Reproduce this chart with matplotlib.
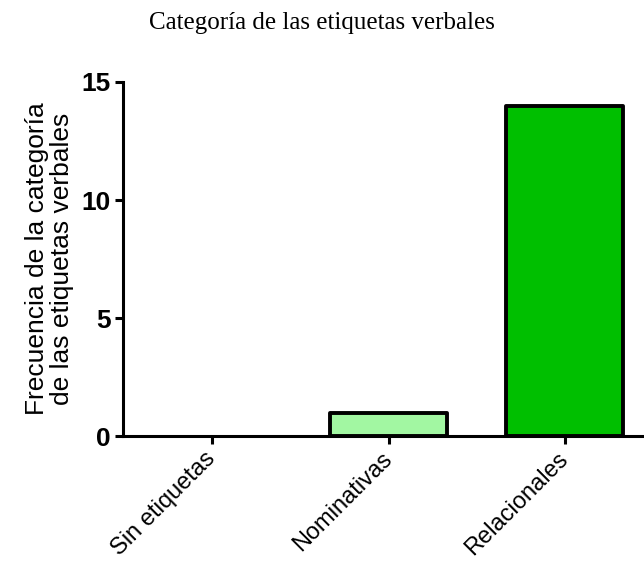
import numpy as np
import matplotlib.pyplot as plt

categorias = ['Sin etiquetas', 'Nominativas', 'Relacionales']
frecuencias = [0, 1, 14]
colores = ['#ffffff', '#a2f7a2', '#00bf00']

def main():
	fig = plt.figure(figsize=(6.44, 5.65), dpi=100)
	ax = fig.add_axes([0.191, 0.228, 0.82, 0.627])

	x = np.arange(len(categorias))
	# bars with zero height get no outline
	bordes = [0 if v == 0 else 2.8 for v in frecuencias]
	barras = ax.bar(x, frecuencias, width=0.665, color=colores, edgecolor='black',
	                linewidth=bordes, zorder=3)
	for b in barras:
		b.set_joinstyle('round')

	ax.set_xlim(-0.507, 2.49)
	ax.set_ylim(0, 15)
	ax.set_yticks([0, 5, 10, 15])
	ax.set_xticks(x)
	ax.set_xticklabels(categorias, rotation=45, ha='right', va='center',
	                   rotation_mode='anchor', fontsize=17, family='Liberation Sans')
	for lbl in ax.get_yticklabels():
		lbl.set_fontsize(19)
		lbl.set_fontweight('bold')
		lbl.set_family('Liberation Sans')

	for s in ['top', 'right']:
		ax.spines[s].set_visible(False)
	for s in ['left', 'bottom']:
		ax.spines[s].set_linewidth(2.2)
		ax.spines[s].set_zorder(4)
	ax.tick_params(axis='both', width=2.2, length=6, pad=3)
	ax.tick_params(axis='x', pad=8)

	ax.set_ylabel('Frecuencia de la categoría\nde las etiquetas verbales',
	              fontsize=19, family='Liberation Sans', labelpad=5, linespacing=1.05)
	fig.text(0.5, 0.96, 'Categoría de las etiquetas verbales', ha='center',
	         va='center', fontsize=18, family='Liberation Serif')

	fig.savefig('out.png', dpi=100)

if __name__ == '__main__':
	main()
